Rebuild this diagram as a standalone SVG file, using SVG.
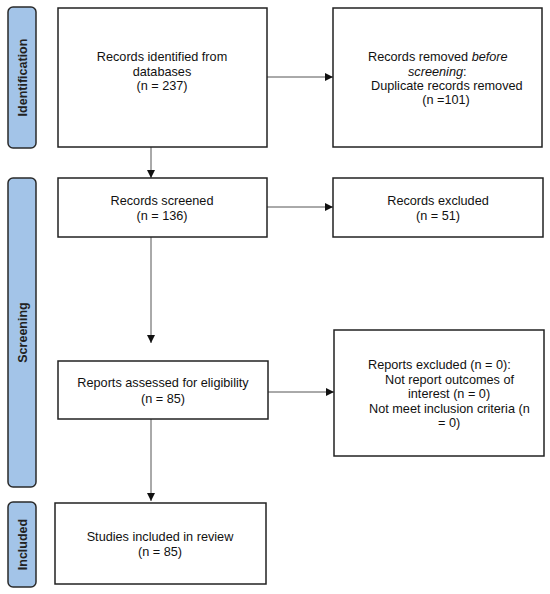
<svg xmlns="http://www.w3.org/2000/svg" width="550" height="594" viewBox="0 0 550 594">
<style>
.box{fill:#fff;stroke:#222;stroke-width:1.5}
.side{fill:#a3c4e8;stroke:#2a2a2a;stroke-width:1.5}
.t{font-family:"Liberation Sans",Arial,sans-serif;font-size:12.7px;fill:#111}
.c{text-anchor:middle}
.st{font-family:"Liberation Sans",Arial,sans-serif;font-size:12.5px;font-weight:bold;fill:#222;text-anchor:middle}
.ln{stroke:#555;stroke-width:1;fill:none}
</style>
<defs>
<marker id="ah" viewBox="0 0 10 10" refX="10" refY="5" markerWidth="8" markerHeight="8" markerUnits="userSpaceOnUse" orient="auto">
<path d="M0,0 L10,5 L0,10 z" fill="#111"/>
</marker>
</defs>
<g id="sidebars">
<g id="identification"><rect class="side" x="8" y="7" width="28" height="141" rx="5"/><text class="st" transform="translate(26.5,77.5) rotate(-90)">Identification</text></g>
<g id="screening"><rect class="side" x="8" y="178" width="28" height="309" rx="5"/><text class="st" transform="translate(26.5,332.5) rotate(-90)">Screening</text></g>
<g id="included"><rect class="side" x="8" y="502" width="28" height="85" rx="5"/><text class="st" transform="translate(26.5,544.5) rotate(-90)">Included</text></g>
</g>
<g id="connectors">
<line class="ln" x1="151" y1="147" x2="151" y2="178" marker-end="url(#ah)"/>
<line class="ln" x1="267" y1="77" x2="333" y2="77" marker-end="url(#ah)"/>
<line class="ln" x1="267" y1="207" x2="333" y2="207" marker-end="url(#ah)"/>
<line class="ln" x1="151" y1="237" x2="151" y2="343" marker-end="url(#ah)"/>
<line class="ln" x1="268" y1="392" x2="334" y2="392" marker-end="url(#ah)"/>
<line class="ln" x1="151" y1="419" x2="151" y2="501" marker-end="url(#ah)"/>
</g>
<g id="identified"><rect class="box" x="58" y="8" width="209" height="139"/>
<text class="t c" x="162" y="61">Records identified from</text>
<text class="t c" x="162" y="75.5">databases</text>
<text class="t c" x="162" y="90">(n = 237)</text></g>
<g id="removed"><rect class="box" x="333" y="8" width="209" height="139"/>
<text class="t" x="368" y="61">Records removed <tspan font-style="italic">before</tspan></text>
<text class="t" x="408" y="75.5"><tspan font-style="italic">screening</tspan>:</text>
<text class="t" x="371" y="90">Duplicate records removed</text>
<text class="t c" x="446" y="104">(n =101)</text></g>
<g id="screened"><rect class="box" x="58" y="178" width="209" height="59"/>
<text class="t c" x="162" y="205">Records screened</text>
<text class="t c" x="162" y="219.5">(n = 136)</text></g>
<g id="excluded"><rect class="box" x="333" y="178" width="210" height="59"/>
<text class="t c" x="438" y="205">Records excluded</text>
<text class="t c" x="438" y="219.5">(n = 51)</text></g>
<g id="assessed"><rect class="box" x="58" y="361" width="210" height="58"/>
<text class="t c" x="163" y="387">Reports assessed for eligibility</text>
<text class="t c" x="163" y="403">(n = 85)</text></g>
<g id="reports-excluded"><rect class="box" x="334" y="330" width="210" height="126"/>
<text class="t" x="368" y="369">Reports excluded (n = 0):</text>
<text class="t" x="385" y="383.5">Not report outcomes of</text>
<text class="t" x="408" y="398">interest (n = 0)</text>
<text class="t" x="369" y="412.5">Not meet inclusion criteria (n</text>
<text class="t" x="438" y="427">= 0)</text></g>
<g id="studies"><rect class="box" x="55" y="503" width="211" height="81"/>
<text class="t c" x="160" y="541">Studies included in review</text>
<text class="t c" x="160" y="556">(n = 85)</text></g>
</svg>
